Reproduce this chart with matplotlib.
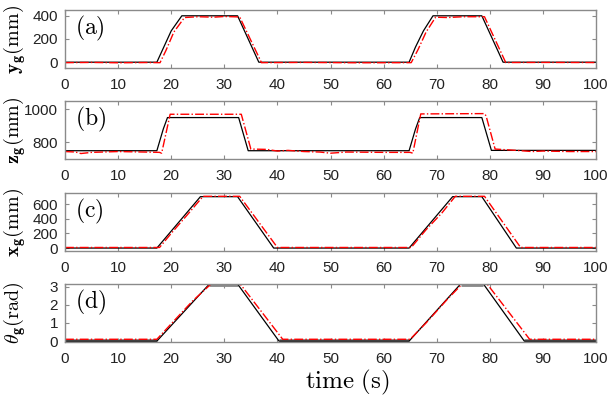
import numpy as np
import matplotlib
matplotlib.use("Agg")
import matplotlib.pyplot as plt

plt.rcParams['mathtext.fontset'] = 'cm'
plt.rcParams['font.family'] = ['Liberation Sans', 'DejaVu Sans']

# (a) y_g in mm
t_y_ref = [0, 17.3, 18.5, 20, 22, 32.5, 36.5, 64.8, 66, 67.5, 69.3, 78.5, 82.5, 100]
y_ref = [0, 0, 120, 270, 400, 400, 0, 0, 130, 270, 400, 400, 0, 0]
t_y_act = [0, 5, 10, 15, 17.9, 19, 20.5, 22.5, 25, 28, 30, 32.9, 37, 45, 55, 65.2, 66.5, 68, 69.8, 72, 75, 79, 83, 90, 100]
y_act = [-4, -2, -5, -3, -4, 100, 260, 385, 392, 388, 394, 390, -4, -2, -5, -4, 110, 260, 388, 385, 392, 392, -3, -2, -3]

# (b) z_g in mm
t_z_ref = [0, 17.3, 18.5, 19.3, 32.7, 34.5, 64.8, 66, 66.8, 78.5, 80.3, 100]
z_ref = [750, 750, 880, 950, 950, 750, 750, 880, 950, 950, 752, 752]
t_z_act = [0, 2, 3, 5, 10, 15, 17.8, 18.2, 19.8, 33.2, 35, 38, 40, 42, 45, 48, 50, 53, 60, 65, 65.5, 67, 79, 79.3, 81, 85, 88, 90, 95, 100]
z_act = [745, 742, 733, 740, 745, 742, 740, 735, 970, 970, 760, 758, 748, 752, 745, 742, 735, 742, 740, 740, 735, 972, 974, 960, 760, 752, 745, 748, 745, 745]

# (c) x_g in mm
t_x_ref = [0, 17.3, 25.5, 32.5, 39.3, 64.8, 73, 78.5, 85, 100]
x_ref = [0, 0, 700, 700, 0, 0, 700, 700, 0, 0]
t_x_act = [0, 17.8, 20, 23, 26, 32.9, 40, 65.2, 68, 71, 73.5, 79, 85.8, 100]
x_act = [8, 8, 200, 450, 705, 705, 8, 8, 250, 480, 705, 705, 8, 8]

# (d) theta_g in rad
t_th_ref = [0, 17.3, 27.2, 32.5, 40.3, 64.8, 74.5, 78.8, 86.5, 100]
th_ref = [0, 0, np.pi, np.pi, 0, 0, np.pi, np.pi, 0, 0]
t_th_act = [0, 17.3, 20, 24, 27.5, 33, 41, 65, 68, 72, 74.8, 79.5, 87.5, 100]
th_act = [0.1, 0.1, 0.95, 2.2, 3.14, 3.14, 0.1, 0.1, 1.0, 2.3, 3.14, 3.14, 0.1, 0.1]
t_th_hold = [0, 17.3, np.nan, 27.2, 32.5, np.nan, 40.3, 64.8, np.nan, 74.5, 78.8, np.nan, 86.5, 100]
th_hold = [0, 0, np.nan, np.pi, np.pi, np.nan, 0, 0, np.nan, np.pi, np.pi, np.nan, 0, 0]

fig = plt.figure(figsize=(6.08, 3.96), dpi=100)
left, width, h = 65 / 608, 531 / 608, 58 / 396
bottoms = [1 - 68 / 396, 1 - 159 / 396, 1 - 251 / 396, 1 - 342 / 396]

panels = [
    (t_y_ref, y_ref, t_y_act, y_act, (-50, 450), [0, 200, 400], r'$\mathbf{y_g}(\mathrm{mm})$', '(a)'),
    (t_z_ref, z_ref, t_z_act, z_act, (700, 1050), [800, 1000], r'$\mathbf{z_g}(\mathrm{mm})$', '(b)'),
    (t_x_ref, x_ref, t_x_act, x_act, (-40, 750), [0, 200, 400, 600], r'$\mathbf{x_g}(\mathrm{mm})$', '(c)'),
    (t_th_ref, th_ref, t_th_act, th_act, (-0.05, np.pi), [0, 1, 2, 3], r'$\theta_\mathbf{g}(\mathrm{rad})$', '(d)'),
]

gray = '#8a8a8a'
axes = []
for i, (tr, vr, ta, va, ylim, yt, ylab, tag) in enumerate(panels):
    ax = fig.add_axes([left, bottoms[i], width, h])
    if i == 3:
        ax.plot(t_th_hold, th_hold, color=gray, lw=3.5, solid_capstyle='butt')
    ax.plot(tr, vr, color='black', lw=0.9)
    ax.plot(ta, va, color='red', lw=1.0, ls='-.')
    ax.set_xlim(0, 100)
    ax.set_ylim(*ylim)
    ax.set_xticks(np.arange(0, 101, 10))
    ax.set_yticks(yt)
    ax.tick_params(direction='in', top=True, right=True, labelsize=11,
                   color=gray, labelcolor='#222222', length=3, pad=5)
    ax.tick_params(axis='x', pad=7)
    for sp in ax.spines.values():
        sp.set_color(gray)
        sp.set_linewidth(1.0)
    ax.set_ylabel(ylab, fontsize=14.5)
    ax.yaxis.set_label_coords(-0.07, 0.5)
    ax.text(0.018, 0.93, r'$\mathrm{' + tag + '}$', transform=ax.transAxes,
            fontsize=17, va='top', ha='left')
    axes.append(ax)

axes[-1].set_xlabel(r'$\mathrm{time\ (s)}$', fontsize=18)
axes[-1].xaxis.set_label_coords(0.532, -0.45)

fig.savefig('out.png', dpi=100)
